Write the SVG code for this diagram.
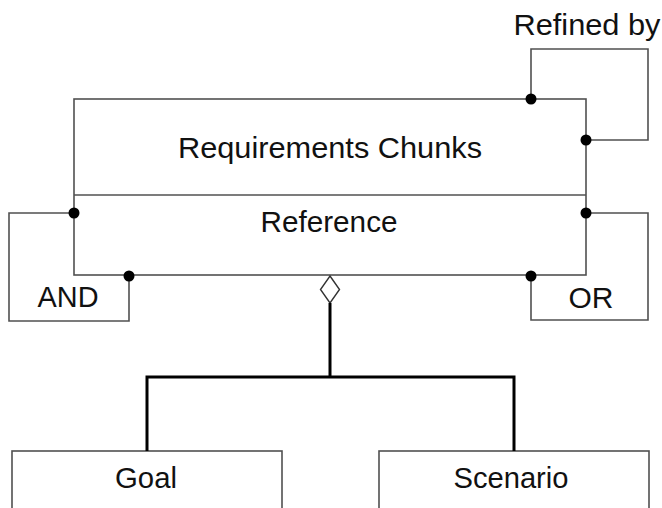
<svg xmlns="http://www.w3.org/2000/svg" width="662" height="508" viewBox="0 0 662 508">
  <style>
    .box { fill: #ffffff; stroke: #505050; stroke-width: 1.6; }
    .wire { fill: none; stroke: #505050; stroke-width: 1.6; }
    .bold { fill: none; stroke: #000000; stroke-width: 3; }
    .dot { fill: #000000; }
    text { font-family: "Liberation Sans", Arial, sans-serif; font-size: 29px; fill: #111111; text-anchor: middle; }
  </style>
  <rect width="662" height="508" fill="#ffffff"/>

  <g id="requirements-chunks">
    <rect class="box" x="74" y="99" width="512" height="176"/>
    <line class="wire" x1="74" y1="195" x2="586" y2="195"/>
    <text x="330" y="158" textLength="304" lengthAdjust="spacingAndGlyphs">Requirements Chunks</text>
    <text x="329" y="232" textLength="137" lengthAdjust="spacingAndGlyphs">Reference</text>
  </g>

  <g id="goal">
    <rect class="box" x="12" y="451" width="270" height="70"/>
    <text x="146" y="488" textLength="62" lengthAdjust="spacingAndGlyphs">Goal</text>
  </g>

  <g id="scenario">
    <rect class="box" x="379" y="451" width="270" height="70"/>
    <text x="511" y="488" textLength="115" lengthAdjust="spacingAndGlyphs">Scenario</text>
  </g>

  <g id="connectors">
    <!-- Refined by self-loop -->
    <polyline class="wire" points="531,99 531,49 648,49 648,140 586,140"/>
    <circle class="dot" cx="531" cy="99" r="5.5"/>
    <circle class="dot" cx="586" cy="140" r="5.5"/>
    <text x="587" y="35" textLength="147" lengthAdjust="spacingAndGlyphs">Refined by</text>

    <!-- AND self-loop -->
    <polyline class="wire" points="74,213 9,213 9,321 129,321 129,275"/>
    <circle class="dot" cx="74" cy="213" r="5.5"/>
    <circle class="dot" cx="129" cy="276" r="5.5"/>
    <text x="68" y="307" textLength="61" lengthAdjust="spacingAndGlyphs">AND</text>

    <!-- OR self-loop -->
    <polyline class="wire" points="586,213 648,213 648,320 531,320 531,275"/>
    <circle class="dot" cx="586" cy="213" r="5.5"/>
    <circle class="dot" cx="531" cy="276" r="5.5"/>
    <text x="591" y="308" textLength="45" lengthAdjust="spacingAndGlyphs">OR</text>

    <!-- aggregation to Goal and Scenario -->
    <polygon points="330,276 339.5,289.5 330,303 320.5,289.5" fill="#ffffff" stroke="#333333" stroke-width="1.4"/>
    <line class="bold" x1="330" y1="303" x2="330" y2="378"/>
    <polyline class="bold" points="147,451 147,377 514,377 514,451"/>
  </g>
</svg>
